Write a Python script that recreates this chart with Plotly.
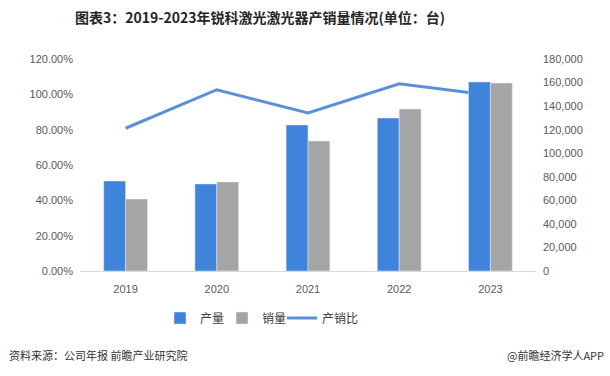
import plotly.graph_objects as go

years = ["2019", "2020", "2021", "2022", "2023"]
production = [76400, 73900, 124000, 129900, 160500]
sales = [61100, 75600, 110400, 137500, 159600]
ratio = [0.808, 1.026, 0.895, 1.06, 0.995]

W, H = 610, 376
L, R, T, B = 80, 74, 59, 105
plot_w = W - L - R
plot_h = H - T - B

tick_font = dict(family="Liberation Sans, Arial, sans-serif", size=11, color="#595959")
cjk = "Noto Sans CJK SC, sans-serif"

fig = go.Figure()
fig.add_trace(go.Bar(
    x=years, y=production, name="产量", marker_color="#3F83DB", yaxis="y2",
    legend="legend"))
fig.add_trace(go.Bar(
    x=years, y=sales, name="销量", marker_color="#A5A5A5", yaxis="y2",
    legend="legend2"))
fig.add_trace(go.Scatter(
    x=years, y=ratio, name="产销比", mode="lines",
    line=dict(color="#5B8FDC", width=3), yaxis="y", legend="legend3"))

leg_y = (T + plot_h - 318) / plot_h


def leg(text_x):
    return dict(orientation="h", x=(text_x - 40 - L) / plot_w, y=leg_y,
                xanchor="left", yanchor="middle",
                font=dict(family=cjk, size=12, color="#404040"),
                itemwidth=30, bgcolor="rgba(0,0,0,0)")


fig.update_layout(
    width=W, height=H,
    margin=dict(l=L, r=R, t=T, b=B, autoexpand=False),
    paper_bgcolor="white", plot_bgcolor="white",
    barmode="group", bargap=0.52, bargroupgap=0,
    showlegend=True,
    legend=leg(200), legend2=leg(262), legend3=leg(322),
    xaxis=dict(showgrid=False, showline=True, linecolor="#D9D9D9", linewidth=1,
               ticks="", tickfont=tick_font, ticklabelstandoff=8),
    yaxis=dict(range=[0, 1.2], dtick=0.2, tickformat=".2%", showgrid=False,
               zeroline=False, showline=False, tickfont=tick_font, ticklabelstandoff=6),
    yaxis2=dict(range=[0, 180000], dtick=20000, tickformat=",", showgrid=False,
                zeroline=False, showline=False, overlaying="y", side="right",
                tickfont=tick_font, ticklabelstandoff=6),
    font=dict(family=cjk),
)

fig.add_annotation(text="<b>图表3：2019-2023年锐科激光激光器产销量情况(单位：台)</b>",
                   xref="paper", yref="paper", x=(260 - L) / plot_w, y=(T + plot_h - 17) / plot_h,
                   xanchor="center", yanchor="middle", showarrow=False,
                   font=dict(family=cjk, size=14, color="#262626"))
fig.add_annotation(text="资料来源：公司年报 前瞻产业研究院",
                   xref="paper", yref="paper", x=(7 - L) / plot_w, y=(T + plot_h - 355) / plot_h,
                   xanchor="left", yanchor="middle", showarrow=False,
                   font=dict(family=cjk, size=11, color="#333333"))
fig.add_annotation(text="@前瞻经济学人APP",
                   xref="paper", yref="paper", x=(606 - L) / plot_w, y=(T + plot_h - 355) / plot_h,
                   xanchor="right", yanchor="middle", showarrow=False,
                   font=dict(family=cjk, size=11, color="#333333"))

fig.write_html("out.html", config={"displayModeBar": False},
               post_script="document.body.style.margin='0';")
